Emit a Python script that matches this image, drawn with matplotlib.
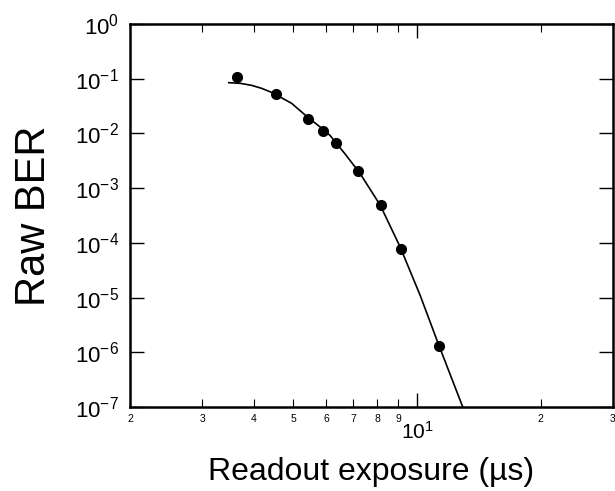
import matplotlib
matplotlib.use('Agg')
import matplotlib.pyplot as plt
from matplotlib.ticker import FixedLocator, FixedFormatter, NullFormatter

plt.rcParams['font.family'] = ['Liberation Sans', 'DejaVu Sans']
plt.rcParams['mathtext.fontset'] = 'custom'
plt.rcParams['mathtext.rm'] = 'Liberation Sans'
plt.rcParams['mathtext.it'] = 'Liberation Sans:italic'

# measured points (readout exposure in us, raw BER)
exposure = [3.64, 4.53, 5.43, 5.91, 6.36, 7.19, 8.17, 9.13, 11.31]
ber = [0.106, 0.0526, 0.0184, 0.0109, 0.0066, 0.00208, 4.98e-4, 7.8e-5, 1.32e-6]

# fitted curve
fit_x = [3.48, 3.71, 3.96, 4.19, 4.43, 4.95, 5.34, 5.86, 6.14, 6.68, 7.26,
         8.13, 9.09, 10.17, 11.27, 12.92]
fit_y = [0.0846, 0.0824, 0.0755, 0.0665, 0.0560, 0.0355, 0.0217, 0.0124,
         0.0092, 0.00421, 0.00187, 4.92e-4, 8.5e-5, 1.11e-5, 1.42e-6, 1.0e-7]

x_minor = [2, 3, 4, 5, 6, 7, 8, 9, 20, 30]
x_minor_labels = ['2', '3', '4', '5', '6', '7', '8', '9', '2', '3']
y_ticks = [1e0, 1e-1, 1e-2, 1e-3, 1e-4, 1e-5, 1e-6, 1e-7]
y_labels = ['$10^{0}$', '$10^{-1}$', '$10^{-2}$', '$10^{-3}$',
            '$10^{-4}$', '$10^{-5}$', '$10^{-6}$', '$10^{-7}$']

fig = plt.figure(figsize=(6.15, 4.91), dpi=100)
ax = fig.add_axes([0.2114, 0.1711, 0.7853, 0.78])

ax.plot(fit_x, fit_y, color='black', lw=1.2)
ax.plot(exposure, ber, 'o', color='black', markersize=7)

ax.set_xscale('log')
ax.set_yscale('log')
ax.set_xlim(2, 30)
ax.set_ylim(1e-7, 1e0)

ax.xaxis.set_major_locator(FixedLocator([10]))
ax.xaxis.set_major_formatter(FixedFormatter(['$10^{1}$']))
ax.xaxis.set_minor_locator(FixedLocator(x_minor))
ax.xaxis.set_minor_formatter(FixedFormatter(x_minor_labels))
ax.yaxis.set_major_locator(FixedLocator(y_ticks))
ax.yaxis.set_major_formatter(FixedFormatter(y_labels))
ax.yaxis.set_minor_formatter(NullFormatter())
ax.yaxis.set_minor_locator(FixedLocator([]))

ax.tick_params(axis='both', which='both', direction='in', top=True, right=True, color='black')
ax.tick_params(axis='x', which='major', length=10, width=1, labelsize=15, pad=10)
ax.tick_params(axis='x', which='minor', length=6, width=0.8, labelsize=7.5, pad=5)
ax.tick_params(axis='y', which='major', length=10, width=1, labelsize=16, pad=8)

for s in ax.spines.values():
    s.set_linewidth(1.8)

ax.set_xlabel('Readout exposure (\u00b5s)', fontsize=23, labelpad=10)
ax.set_ylabel('Raw BER', fontsize=30, labelpad=15)

fig.savefig('out.png', dpi=100)
